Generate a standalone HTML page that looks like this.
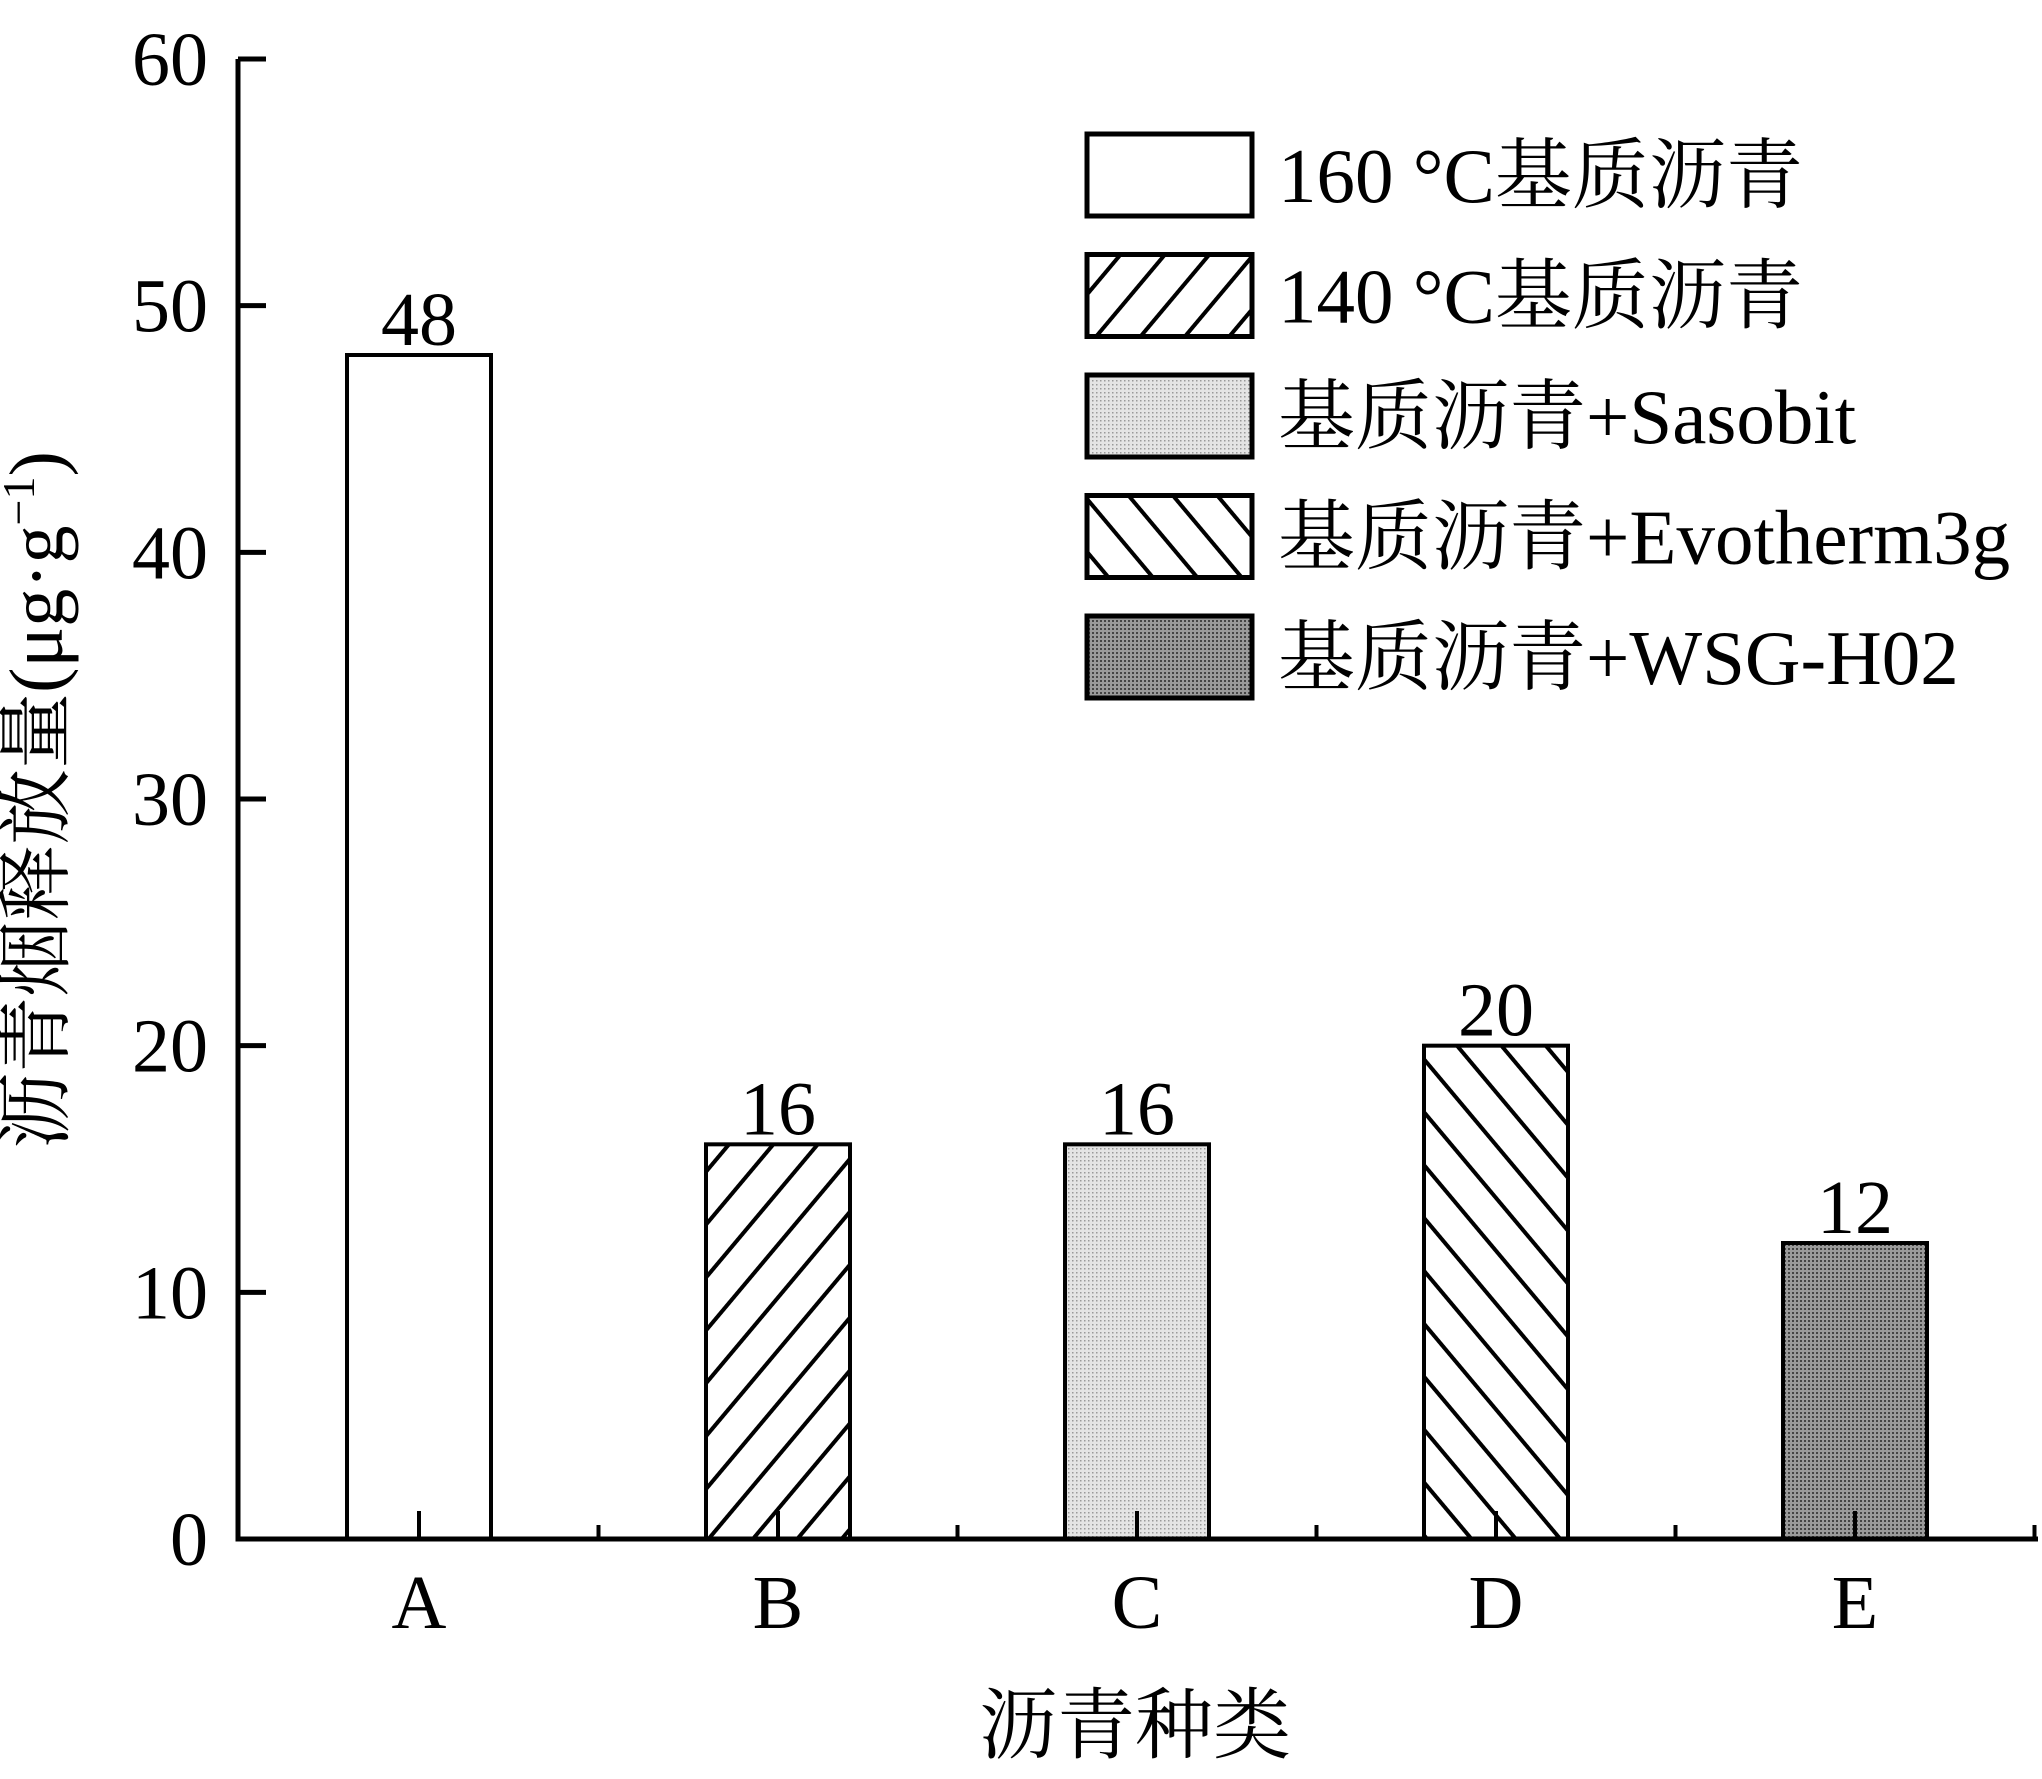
<!DOCTYPE html>
<html><head><meta charset="utf-8"><style>
html,body{margin:0;padding:0;background:#fff;}
svg{display:block;}
text{font-family:"Liberation Serif","Noto Serif CJK SC",serif;fill:#000;}
</style></head><body>
<svg id="chart" width="2042" height="1779" viewBox="0 0 2042 1779" xmlns="http://www.w3.org/2000/svg">
<defs>
<pattern id="hatchR" patternUnits="userSpaceOnUse" width="34" height="34" patternTransform="rotate(40)"><rect width="34" height="34" fill="#fff"/><line x1="0" y1="0" x2="0" y2="34" stroke="#000" stroke-width="8"/></pattern>
<pattern id="hatchL" patternUnits="userSpaceOnUse" width="34" height="34" patternTransform="rotate(-40)"><rect width="34" height="34" fill="#fff"/><line x1="0" y1="0" x2="0" y2="34" stroke="#000" stroke-width="8"/></pattern>
<pattern id="dotLight" patternUnits="userSpaceOnUse" width="4" height="4"><rect width="4" height="4" fill="#e4e4e4"/><rect width="1.5" height="1.5" fill="#999"/></pattern>
<pattern id="dotDark" patternUnits="userSpaceOnUse" width="4" height="4"><rect width="4" height="4" fill="#9a9a9a"/><rect width="2" height="2" fill="#444"/></pattern>
</defs>
<g id="plot"></g>
<text x="62" y="800" font-size="76" text-anchor="middle" transform="rotate(-90 62 800)">沥青烟释放量(μg·g<tspan font-size="46" dy="-28">−1</tspan><tspan dy="28">)</tspan></text>
<text x="1135" y="1752" font-size="78" text-anchor="middle">沥青种类</text>
</svg>
<script>
const categories = ["A","B","C","D","E"];
const values = [48,16,16,20,12];
const valueLabels = ["48","16","16","20","12"];
const yTicks = [0,10,20,30,40,50,60];
const legendLabels = ["160 °C基质沥青","140 °C基质沥青","基质沥青+Sasobit","基质沥青+Evotherm3g","基质沥青+WSG-H02"];
const fills = ["#fff","url(#hatchR)","url(#dotLight)","url(#hatchL)","url(#dotDark)"];

const NS="http://www.w3.org/2000/svg";
const g=document.getElementById('plot');
const x0=238,x1=2038,y0=1539,yTop=59,yMax=60;
const band=359, firstC=419, barW=144;
function yS(v){return y0-(v/yMax)*(y0-yTop);}
function xC(i){return firstC+i*band;}
function mk(tag,attrs){const e=document.createElementNS(NS,tag);for(const k in attrs)e.setAttribute(k,attrs[k]);g.appendChild(e);return e;}

categories.forEach((c,i)=>{
  const r=mk('rect',{x:xC(i)-barW/2,y:yS(values[i]),width:barW,height:y0-yS(values[i]),fill:fills[i],stroke:'#000','stroke-width':4});
  
  
  const t=mk('text',{x:xC(i),y:yS(values[i])-10,'font-size':76,'text-anchor':'middle'});
  t.textContent=valueLabels[i];
  
  
  const tk=mk('line',{x1:xC(i),x2:xC(i),y1:y0,y2:y0-28,stroke:'#000','stroke-width':4});
  
  
  const lb=mk('text',{x:xC(i),y:1628,'font-size':76,'text-anchor':'middle'});
  lb.textContent=c;
  
  
  const mt=mk('line',{x1:xC(i)+band/2,x2:xC(i)+band/2,y1:y0,y2:y0-14,stroke:'#000','stroke-width':4});
  
  
});
const ax=mk('path',{d:`M${x0},${yTop} V${y0} H${x1}`,fill:'none',stroke:'#000','stroke-width':5});


yTicks.forEach(v=>{
  const l=mk('line',{x1:x0,x2:x0+28,y1:yS(v),y2:yS(v),stroke:'#000','stroke-width':5});
  
  
  const t=mk('text',{x:x0-30,y:yS(v)+26,'font-size':76,'text-anchor':'end'});
  t.textContent=v;
  
  
});
legendLabels.forEach((s,i)=>{
  const yy=134+i*120.5;
  const r=mk('rect',{x:1087,y:yy,width:165,height:82,fill:fills[i],stroke:'#000','stroke-width':5});
  
  
  const t=mk('text',{x:1278,y:yy+68,'font-size':77});
  t.textContent=s;
  
  
});
</script>
</body></html>
